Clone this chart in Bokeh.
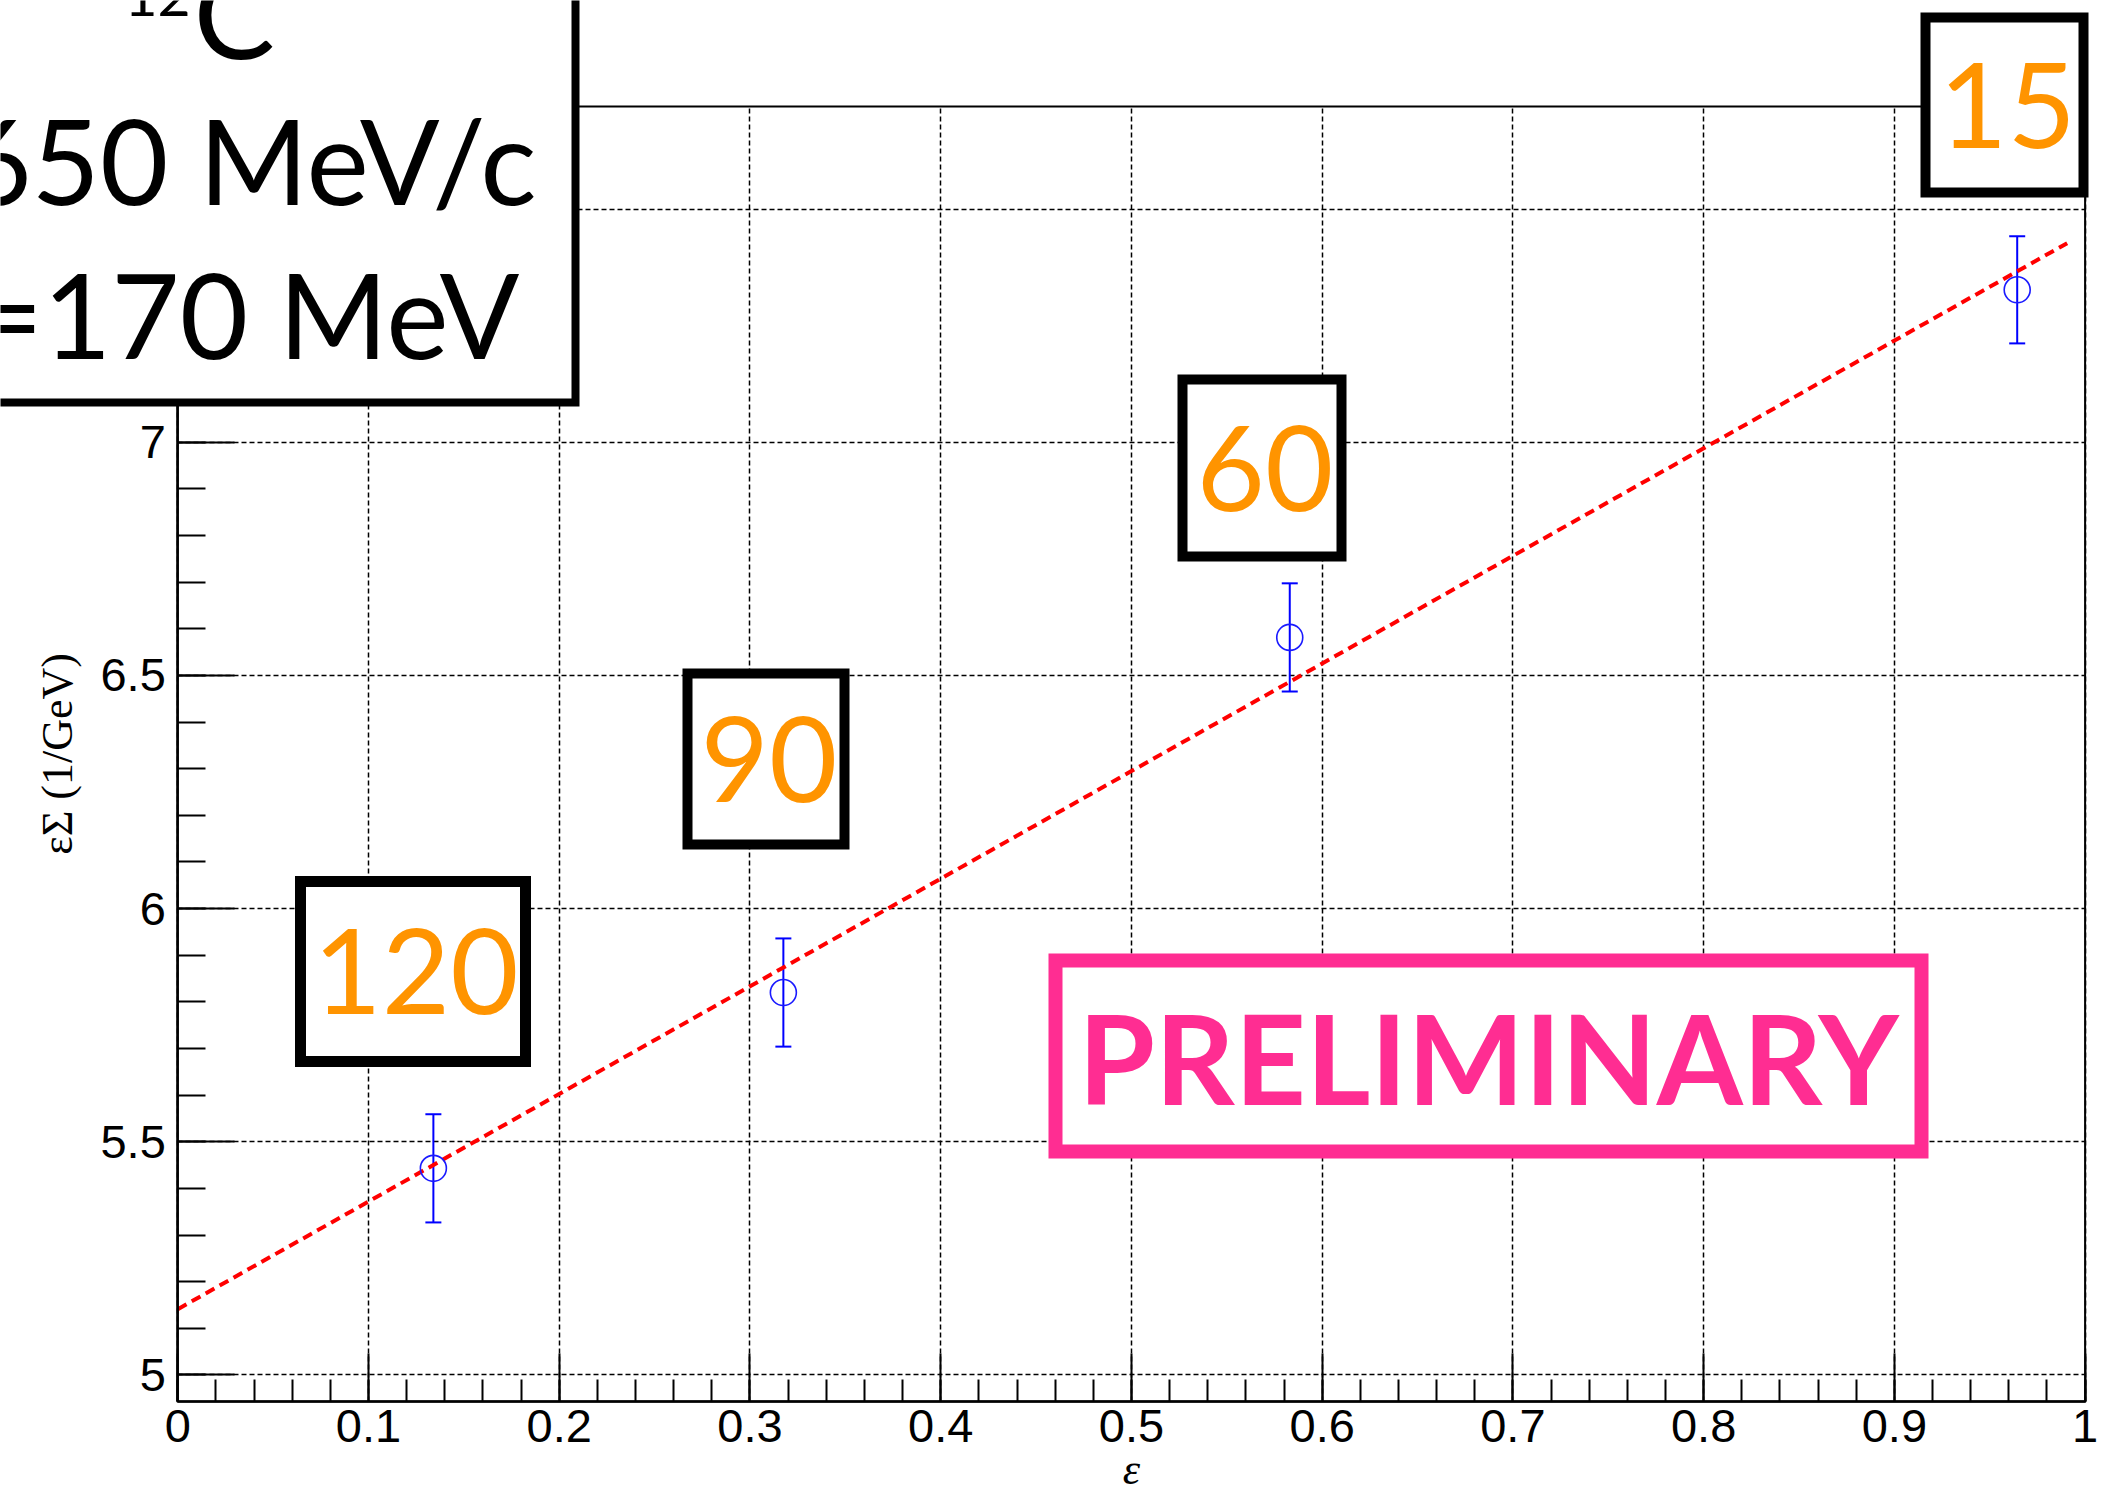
from bokeh.plotting import figure
from bokeh.models import (ColumnDataSource, Whisker, TeeHead, FixedTicker,
                          BoxAnnotation, Label, Range1d, Grid)
from bokeh.embed import file_html
from bokeh.resources import INLINE

# Rosenbluth-type points: virtual photon polarisation eps vs eps*Sigma (1/GeV)
eps = [0.134, 0.3175, 0.583, 0.9644]
eps_sigma = [5.443, 5.820, 6.5815, 7.327]
eps_sigma_err = [0.116, 0.116, 0.116, 0.115]
angles = ["120", "90", "60", "15"]          # electron scattering angle (deg)

# straight-line fit through the points
fit_eps = [0.0, 0.9906]
fit_eps_sigma = [5.141, 7.427]

x_ticks = [0.0, 0.1, 0.2, 0.3, 0.4, 0.5, 0.6, 0.7, 0.8, 0.9, 1.0]
x_tick_labels = ["0", "0.1", "0.2", "0.3", "0.4", "0.5", "0.6", "0.7", "0.8", "0.9", "1"]
y_ticks = [5.0, 5.5, 6.0, 6.5, 7.0, 7.5]
y_tick_labels = ["5", "5.5", "6", "6.5", "7", ""]

kinematics = ["650 MeV/c", "=170 MeV"]
nucleus = ("12", "C")
stamp = "PRELIMINARY"

# ---- page geometry (pixels from the top-left corner) ----
W, H = 2102, 1491
FL, FR, FT, FB = 177.3, 2084.6, 106.0, 1401.0   # edges of the axes frame
X0, X1 = 0.0, 1.0                                # data values at frame edges
Y0, Y1 = 4.943, 7.72

SX = (X1 - X0) / (FR - FL)
SY = (Y1 - Y0) / (FB - FT)


def dx(px):
    return X0 + (px - FL) * SX


def dy(py):
    return Y0 + (FB - py) * SY


# the canvas is the plotting area; the axes sit at fixed data positions
p = figure(width=W, height=H,
           x_range=Range1d(dx(0), dx(W)), y_range=Range1d(dy(H), dy(0)),
           output_backend="svg", toolbar_location=None,
           min_border=0, min_border_left=0, min_border_right=0,
           min_border_top=0, min_border_bottom=0)
p.background_fill_color = "white"
p.border_fill_color = "white"
p.outline_line_color = None

x_minor = [round(i * 0.02, 2) for i in range(51)]
y_minor = [round(5.0 + i * 0.1, 1) for i in range(28)]

p.xaxis.ticker = FixedTicker(ticks=x_ticks, minor_ticks=x_minor)
p.yaxis.ticker = FixedTicker(ticks=y_ticks, minor_ticks=y_minor)
p.xaxis.major_label_overrides = {t: s for t, s in zip(x_ticks, x_tick_labels)}
p.yaxis.major_label_overrides = {t: s for t, s in zip(y_ticks, y_tick_labels)}
p.xaxis.fixed_location = Y0
p.yaxis.fixed_location = X0
p.xaxis.bounds = (X0, X1)
p.yaxis.bounds = (Y0, Y1)

for ax in (p.xaxis[0], p.yaxis[0]):
    ax.axis_line_color = "black"
    ax.axis_line_width = 2.5
    ax.major_tick_line_color = "black"
    ax.major_tick_line_width = 2
    ax.minor_tick_line_color = "black"
    ax.minor_tick_line_width = 2
    ax.major_tick_out = 0
    ax.minor_tick_out = 0
    ax.major_label_text_font = "Liberation Sans"
    ax.major_label_text_font_size = "47px"
    ax.major_label_text_color = "black"

p.xaxis.major_tick_in = 48
p.xaxis.minor_tick_in = 22
p.xaxis.major_label_standoff = 8
p.yaxis.major_tick_in = 57
p.yaxis.minor_tick_in = 28
p.yaxis.major_label_standoff = 12

p.yaxis.axis_label = "\u03b5\u03a3 (1/GeV)"
p.yaxis.axis_label_text_font = "Liberation Serif"
p.yaxis.axis_label_text_font_style = "normal"
p.yaxis.axis_label_text_font_size = "44px"
p.yaxis.axis_label_text_color = "black"
p.yaxis.axis_label_standoff = 15

p.xaxis.axis_label = "\u03b5"
p.xaxis.axis_label_text_font = "Liberation Serif"
p.xaxis.axis_label_text_font_style = "italic"
p.xaxis.axis_label_text_font_size = "44px"
p.xaxis.axis_label_text_color = "black"
p.xaxis.axis_label_standoff = 0

# dotted grid restricted to the frame
has_cross = "cross_bounds" in Grid.properties()
for g, ticks in ((p.xgrid[0], x_ticks), (p.ygrid[0], y_ticks)):
    g.ticker = FixedTicker(ticks=ticks)
    g.grid_line_color = "black"
    g.grid_line_width = 1.5
    g.grid_line_dash = "5 3"
if has_cross:
    p.xgrid.bounds = (X0, X1)
    p.ygrid.bounds = (Y0, Y1)
    p.xgrid.cross_bounds = (Y0, Y1)
    p.ygrid.cross_bounds = (X0, X1)
else:
    p.xgrid.visible = False
    p.ygrid.visible = False
    p.segment(x0=x_ticks, x1=x_ticks, y0=[Y0] * len(x_ticks), y1=[Y1] * len(x_ticks),
              line_color="black", line_width=1.5, line_dash="5 3")
    p.segment(x0=[X0] * len(y_ticks), x1=[X1] * len(y_ticks), y0=y_ticks, y1=y_ticks,
              line_color="black", line_width=1.5, line_dash="5 3")

# fit line
p.line(fit_eps, fit_eps_sigma, line_color="#ff0000", line_width=4, line_dash="10 6")

# data points with error bars
src = ColumnDataSource(dict(
    x=eps, y=eps_sigma,
    lo=[v - e for v, e in zip(eps_sigma, eps_sigma_err)],
    hi=[v + e for v, e in zip(eps_sigma, eps_sigma_err)],
))
p.add_layout(Whisker(source=src, base="x", lower="lo", upper="hi",
                     line_color="#0000ff", line_width=2,
                     lower_head=TeeHead(size=16, line_color="#0000ff", line_width=2),
                     upper_head=TeeHead(size=16, line_color="#0000ff", line_width=2)))
p.scatter("x", "y", source=src, marker="circle", size=26, fill_color=None,
          line_color="#1a1aff", line_width=1.6)

# top and right edges of the frame
p.add_layout(BoxAnnotation(left=X0, right=X1, bottom=Y0, top=Y1,
                           fill_alpha=0, line_color="black", line_width=2, line_alpha=1.0,
                           line_join="miter"))

TEXT_FONT = "Lato"
ORANGE = "#ff9400"
PINK = "#ff2d92"


def frame_box(l, t, r, b, color, lw):
    p.add_layout(BoxAnnotation(left=dx(l), right=dx(r), top=dy(t), bottom=dy(b),
                               fill_color="white", fill_alpha=1.0,
                               line_color=color, line_width=lw, line_alpha=1.0,
                               line_join="miter"))


def text(px, py_mid, s, size, color, align="center", style="normal", font=TEXT_FONT):
    p.add_layout(Label(x=dx(px), y=dy(py_mid), text=s, text_font=font,
                       text_font_size=f"{size}px", text_color=color,
                       text_align=align, text_baseline="middle",
                       text_font_style=style))


# kinematics box in the upper-left corner
frame_box(-40, -40, 575, 402, "black", 8)
text(124, -5, nucleus[0], 57, "black", align="left")
text(193, 11, nucleus[1], 122, "black", align="left")
text(536, 159, kinematics[0], 118, "black", align="right")
text(519, 313, kinematics[1], 118, "black", align="right")

# angle tags next to each point (box edges in pixels)
angle_boxes = [(300, 881, 525, 1061, 11), (687, 673, 844, 844, 10),
               (1182, 379, 1341, 556, 10), (1925, 17, 2083, 192, 10)]
for tag, (l, t, r, b, lw) in zip(angles, angle_boxes):
    frame_box(l, t, r, b, "black", lw)
    text((l + r) / 2 + 3, (t + b) / 2, tag, 118, ORANGE)

# preliminary stamp
frame_box(1055, 960, 1921, 1151, PINK, 14)
text(1488, 1056, stamp, 124, PINK, style="bold")

open("out.html", "w").write(file_html(p, INLINE))
